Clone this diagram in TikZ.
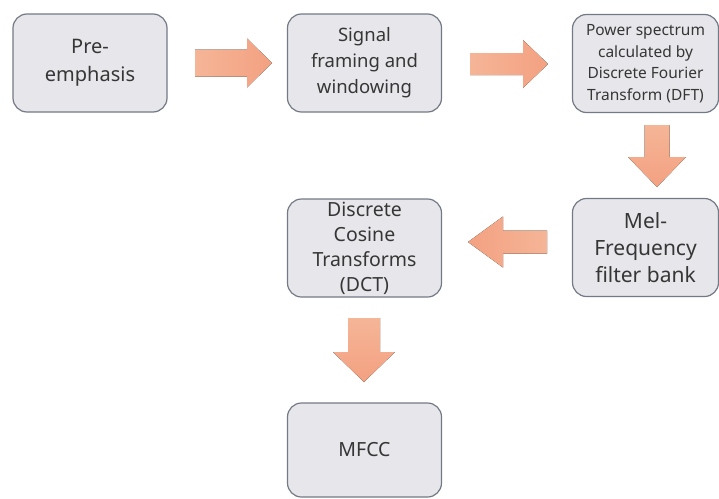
\documentclass[tikz,border=0pt]{standalone}
\usepackage{fontspec}
\setmainfont{Noto Sans}
\definecolor{boxfill}{HTML}{E7E7EB}
\definecolor{boxline}{HTML}{737985}
\definecolor{arrdark}{HTML}{F3A181}
\definecolor{arrlight}{HTML}{F5B597}
\definecolor{txt}{HTML}{363636}
% right / left block arrows: (x0,x1,yc,shaft half,head half,head length)
\newcommand\blockright[6]{%
  \fill[left color=arrlight,right color=arrdark]
   (#1,#3-#4) -- (#2-#6,#3-#4) -- (#2-#6,#3-#5) -- (#2,#3) -- (#2-#6,#3+#5) -- (#2-#6,#3+#4) -- (#1,#3+#4) -- cycle;}
\newcommand\blockleft[6]{%
  \fill[left color=arrdark,right color=arrlight]
   (#1,#3-#4) -- (#2+#6,#3-#4) -- (#2+#6,#3-#5) -- (#2,#3) -- (#2+#6,#3+#5) -- (#2+#6,#3+#4) -- (#1,#3+#4) -- cycle;}
% down: (y0,y1,xc,shaft half,head half,head length)
\newcommand\blockdown[6]{%
  \fill[top color=arrlight,bottom color=arrdark]
   (#3-#4,#1) -- (#3-#4,#2-#6) -- (#3-#5,#2-#6) -- (#3,#2) -- (#3+#5,#2-#6) -- (#3+#4,#2-#6) -- (#3+#4,#1) -- cycle;}
\begin{document}
\begin{tikzpicture}[x=1pt,y=-1pt,
  stagebox/.style={draw=boxline, fill=boxfill, line width=1.2pt, rounded corners=14pt,
    align=center, text=txt, inner sep=0pt, minimum width=154pt, minimum height=98pt}]
\useasboundingbox (0,0) rectangle (719,498);
\node[stagebox,font=\fontsize{20}{28}\selectfont] (b1) at (90,63) {Pre-\\emphasis};
\node[stagebox,font=\fontsize{18.5}{26}\selectfont] (b2) at (364.5,63) {Signal\\framing and\\windowing};
\node[stagebox,font=\fontsize{15.5}{21.5}\selectfont,minimum width=146pt] (b3) at (645.5,63.5) {Power spectrum\\calculated by\\Discrete Fourier\\Transform (DFT)};
\node[stagebox,font=\fontsize{21}{27}\selectfont,minimum width=146pt] (b4) at (645.5,247.5) {Mel-\\Frequency\\filter bank};
\node[stagebox,font=\fontsize{19.5}{25}\selectfont] (b5) at (364.5,248) {Discrete\\Cosine\\Transforms\\(DCT)};
\node[stagebox,font=\fontsize{19.5}{25}\selectfont,minimum height=94pt] (b6) at (364.5,450) {MFCC};
\blockright{195}{272}{63}{13.5}{24.5}{25}
\blockright{470}{548}{64}{11}{24}{25}
\blockdown{125}{187}{657}{12.5}{29}{30}
\blockleft{547}{468}{242}{11.5}{25.5}{35}
\blockdown{318}{382}{364}{16}{31}{30}
\end{tikzpicture}
\end{document}
